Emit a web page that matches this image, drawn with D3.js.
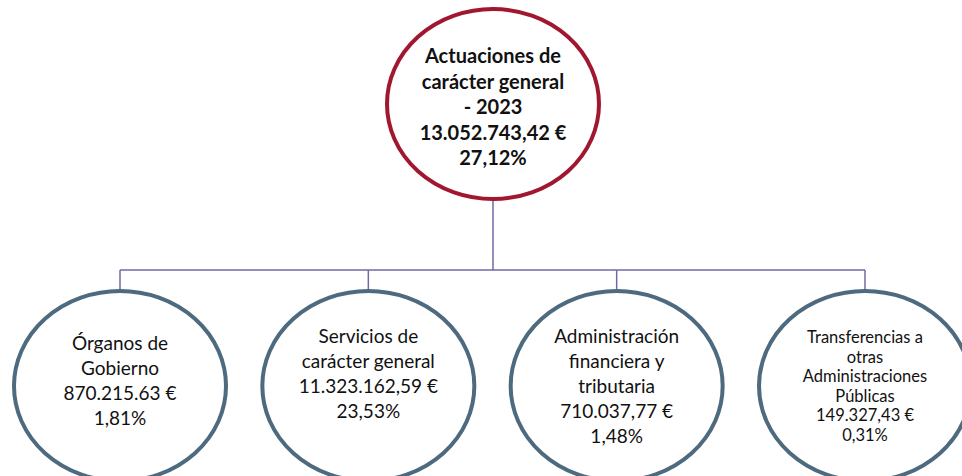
<!DOCTYPE html>
<html lang="es">
<head>
<meta charset="UTF-8">
<title>Actuaciones de carácter general - 2023</title>
<script src="https://cdn.jsdelivr.net/npm/d3@7"></script>
<style>
    body { margin: 0; background: #fff; font-family: Lato, "Open Sans", sans-serif; }
    svg { display: block; }
</style>
</head>
<body>
<script>

// root node
var rootLines = ["Actuaciones de", "carácter general", "- 2023"];
var rootAmount = "13.052.743,42 €";
var rootPct = "27,12%";

// child nodes
var childNames = [
    ["Órganos de", "Gobierno"],
    ["Servicios de", "carácter general"],
    ["Administración", "financiera y", "tributaria"],
    ["Transferencias a", "otras", "Administraciones", "Públicas"]
];
var childAmounts = ["870.215.63 €", "11.323.162,59 €", "710.037,77 €", "149.327,43 €"];
var childPcts = ["1,81%", "23,53%", "1,48%", "0,31%"];

var width = 962, height = 476;

var svg = d3.select("body").append("svg")
    .attr("width", width)
    .attr("height", height);

var x = d3.scalePoint()
    .domain(d3.range(childNames.length))
    .range([120, 865]);

var rootX = 493, rootY = 104, rx = 106, ry = 95;
var childY = 386, barY = 270;

// connectors
var lineColor = "#6e6aa6";
svg.append("line")
    .attr("x1", rootX).attr("x2", rootX)
    .attr("y1", rootY + ry).attr("y2", barY)
    .attr("stroke", lineColor).attr("stroke-width", 1.5);

svg.append("line")
    .attr("x1", x(0)).attr("x2", x(childNames.length - 1))
    .attr("y1", barY).attr("y2", barY)
    .attr("stroke", lineColor).attr("stroke-width", 1.5);

svg.selectAll(".drop")
    .data(childNames)
  .enter().append("line")
    .attr("class", "drop")
    .attr("x1", function(d, i) { return x(i); })
    .attr("x2", function(d, i) { return x(i); })
    .attr("y1", barY)
    .attr("y2", childY - ry)
    .attr("stroke", lineColor).attr("stroke-width", 1.5);

// root ellipse
svg.append("ellipse")
    .attr("cx", rootX).attr("cy", rootY)
    .attr("rx", rx).attr("ry", ry)
    .attr("fill", "#fff")
    .attr("stroke", "#a0172f")
    .attr("stroke-width", 4);

var rootText = svg.append("text")
    .attr("text-anchor", "middle")
    .attr("font-weight", "bold")
    .attr("font-size", 20)
    .attr("fill", "#111");

rootText.selectAll("tspan")
    .data(rootLines.concat([rootAmount, rootPct]))
  .enter().append("tspan")
    .attr("x", rootX)
    .attr("y", function(d, i) { return 63 + i * 25.5; })
    .text(function(d) { return d; });

// children
var firstBase = [350, 343, 343, 343];
var lineGap = [25, 25, 25, 19.6];
var fontSize = [19, 19, 19, 16.5];

var child = svg.selectAll(".child")
    .data(childNames)
  .enter().append("g")
    .attr("class", "child");

child.append("ellipse")
    .attr("cx", function(d, i) { return x(i); })
    .attr("cy", childY)
    .attr("rx", rx).attr("ry", ry)
    .attr("fill", "#fff")
    .attr("stroke", "#4d6a7f")
    .attr("stroke-width", 4);

child.append("text")
    .attr("text-anchor", "middle")
    .attr("font-size", function(d, i) { return fontSize[i]; })
    .attr("fill", "#111")
    .each(function(d, i) {
        var lines = d.concat([childAmounts[i], childPcts[i]]);
        d3.select(this).selectAll("tspan")
            .data(lines)
          .enter().append("tspan")
            .attr("x", x(i))
            .attr("y", function(t, j) { return firstBase[i] + j * lineGap[i]; })
            .text(function(t) { return t; });
    });

</script>
</body>
</html>
